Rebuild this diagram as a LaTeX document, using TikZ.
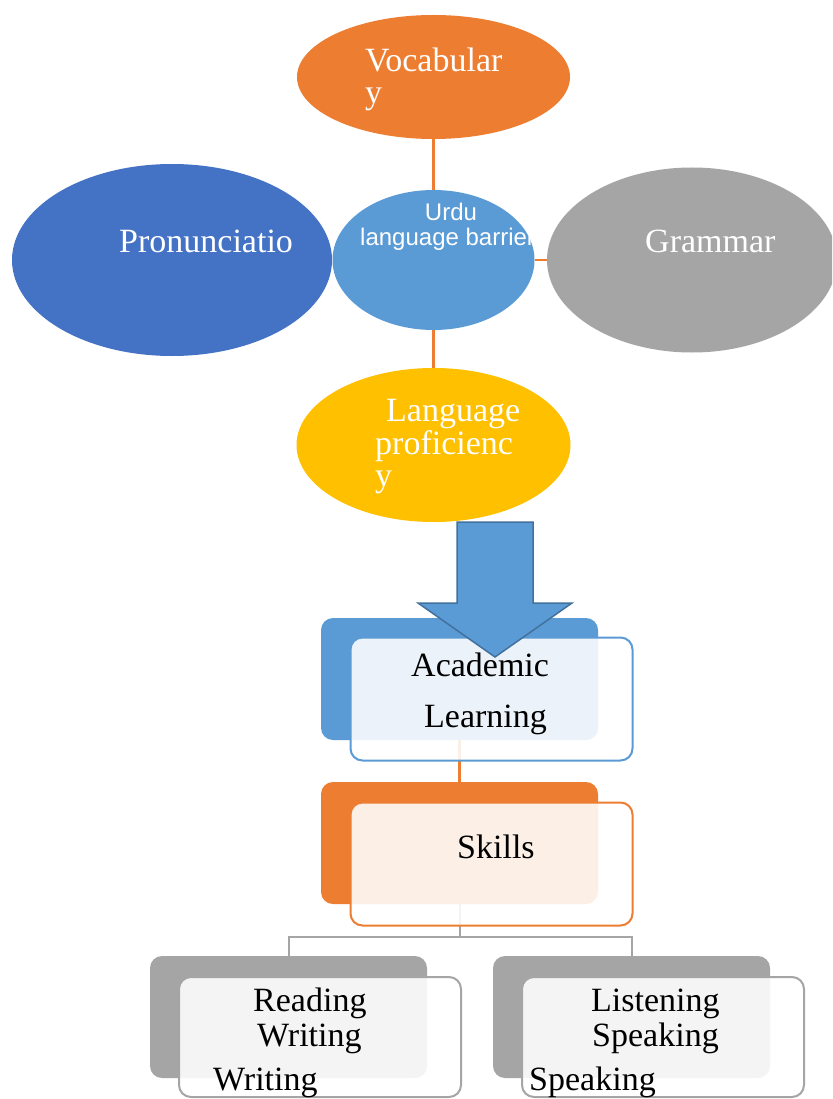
\documentclass[tikz,border=0pt]{standalone}
\usepackage{fontspec}
\setmainfont{Liberation Serif}
\newfontfamily\sansf{Liberation Sans}
\usetikzlibrary{shapes.geometric}
\definecolor{cOrange}{HTML}{ED7D31}
\definecolor{cBlue}{HTML}{4472C4}
\definecolor{cLight}{HTML}{5B9BD5}
\definecolor{cGray}{HTML}{A5A5A5}
\definecolor{cGold}{HTML}{FFC000}
\definecolor{cArrowEdge}{HTML}{41719C}
\begin{document}
\begin{tikzpicture}[x=1pt,y=-1pt,
  bubble/.style={ellipse, inner sep=0pt, draw=none},
  etext/.style={text=white, font=\fontsize{34}{40}\selectfont, inner sep=0pt, anchor=base west},
  btext/.style={text=black, font=\fontsize{34}{40}\selectfont, inner sep=0pt, anchor=base west},
  backbox/.style={rectangle, rounded corners=12pt, inner sep=0pt, draw=none, minimum width=277pt, minimum height=122pt},
  frontbox/.style={rectangle, rounded corners=12pt, inner sep=0pt, fill=white, fill opacity=0.88, line width=2pt, minimum width=282pt, minimum height=123pt},
  link/.style={line width=2.2pt, draw=cOrange},
  glink/.style={line width=2pt, draw=cGray}]
\fill[white] (0,0) rectangle (832,1099);
\useasboundingbox (0,0) rectangle (832,1099);
\clip (0,0) rectangle (832,1099);

% ellipses
\node[bubble, fill=cOrange, minimum width=273pt, minimum height=124pt] (vocab) at (433.5,77) {};
\node[bubble, fill=cLight, minimum width=202pt, minimum height=140pt] (urdu) at (433.5,260) {};
\node[bubble, fill=cBlue, minimum width=320pt, minimum height=192pt] (pron) at (172,260) {};
\node[bubble, fill=cGray, minimum width=290pt, minimum height=185pt] (gram) at (692,260) {};
\node[bubble, fill=cGold, minimum width=274pt, minimum height=154pt] (prof) at (433.5,445) {};

% connectors between ellipses
\draw[link] (vocab.south) -- (urdu.north);
\draw[link] (urdu.east) -- (gram.west);
\draw[link] (urdu.south) -- (prof.north);

% ellipse texts
\node[etext] (tvocab1) at (365,72) {Vocabular};
\node[etext] (tvocab2) at (365,104) {y};
\node[etext] (tpron) at (119,252) {Pronunciatio};
\node[etext] (tgram) at (645,252) {Grammar};
\node[etext] (tprof1) at (386,421) {Language};
\node[etext] (tprof2) at (375,454) {proficienc};
\node[etext] (tprof3) at (375,486) {y};
\begin{scope}
  \clip (433.5,260) ellipse [x radius=101pt, y radius=70pt];
  \node[text=white, font=\sansf\fontsize{24}{26}\selectfont, inner sep=0pt, anchor=base] (turdu1) at (451,221) {Urdu};
  \node[text=white, font=\sansf\fontsize{24}{26}\selectfont, inner sep=0pt, anchor=base west] (turdu2) at (360,246) {language barrier};
\end{scope}

% back boxes
\node[backbox, fill=cLight] (acadback) at (459.5,679) {};
\node[backbox, fill=cOrange] (skillback) at (459.5,843) {};
\node[backbox, fill=cGray] (readback) at (288.5,1017) {};
\node[backbox, fill=cGray] (listback) at (631.5,1017) {};

% connectors between boxes
\coordinate (branch) at (459.5,937);
\draw[link] (acadback.south) -- (skillback.north);
\draw[glink] (skillback.south) -- (branch);
\draw[glink] (readback.north) |- (branch) -| (listback.north);

% front boxes
\node[frontbox, draw=cLight] (acadfront) at (491.5,699) {};
\node[frontbox, draw=cOrange] (skillfront) at (491.5,864) {};
\node[frontbox, draw=cGray, minimum height=120pt] (readfront) at (320,1037) {};
\node[frontbox, draw=cGray, minimum height=120pt] (listfront) at (663,1037) {};

% box texts
\node[btext] (tacad1) at (411,676) {Academic};
\node[btext] (tacad2) at (424,727) {Learning};
\node[btext] (tskill) at (457,858) {Skills};
\node[btext] (tread1) at (253,1011) {Reading};
\node[btext] (tread2) at (257,1046) {Writing};
\node[btext] (tread3) at (213,1090) {Writing};
\node[btext] (tlist1) at (591,1011) {Listening};
\node[btext] (tlist2) at (592,1046) {Speaking};
\node[btext] (tlist3) at (529,1090) {Speaking};

% big arrow
\draw[fill=cLight, draw=cArrowEdge, line width=1.5pt, line join=miter]
  (457,522) -- (533,522) -- (533,603) -- (572,603) -- (495,657) -- (418,603) -- (457,603) -- cycle;
\end{tikzpicture}
\end{document}
